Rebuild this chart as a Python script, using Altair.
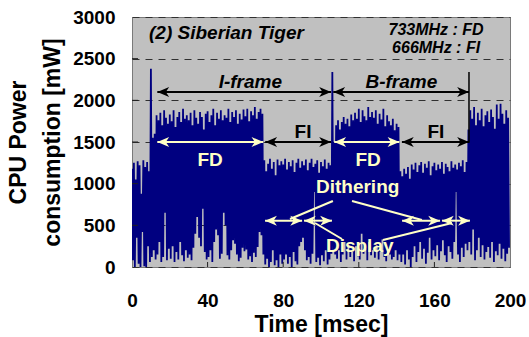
import altair as alt
import pandas as pd

FONT = "Liberation Sans"
NAVY = "#000080"
CREAM = "#FFFFC6"

# ---- signal: per-millisecond upper / lower excursions (mW) ----
hi_a = [1180, 1250, 1050, 1270, 1220, 880, 1280, 1200, 1260, 1150,
        2380, 1550, 1600, 1820, 1760, 1850, 1700, 1880, 1790, 1720,
        1830, 1750, 1880, 1680, 1800, 1860, 1740, 1900, 1780, 1820,
        1760, 1850, 1700, 1880, 1790, 1720, 1860, 1800, 1650, 1840,
        1870, 1740, 1820, 1900, 1700, 1850, 1780, 1880, 1760, 1820]
lo_a = [80, 0, 350, 40, 0, 420, 10, 0, 250, 60,
        120, 200, 90, 150, 300, 60, 120, 650, 80, 220,
        100, 250, 60, 180, 90, 300, 140, 70, 200, 110,
        150, 80, 230, 400, 600, 350, 250, 700, 180, 90,
        120, 200, 60, 300, 450, 380, 100, 160, 650, 500]
hi_b = [1790, 1900, 1740, 1860, 1800, 1880, 1720, 1840, 1770, 1890,
        1810, 1900, 1750, 1870, 1820, 1920, 1780, 1860, 1900, 1840,
        1280, 1150, 1240, 1300, 1180, 1260, 1100, 1290, 1220, 1270,
        1230, 1300, 1170, 1260, 1210, 1280, 1140, 1250, 1300, 1190,
        1270, 1220, 1290, 1160, 1250, 1300, 1200, 1240, 1280, 1130]
lo_b = [140, 90, 200, 320, 280, 150, 70, 110, 230, 190,
        210, 90, 130, 60, 170, 120, 240, 420, 380, 150,
        30, 100, 0, 60, 200, 20, 80, 0, 150, 40,
        90, 150, 40, 120, 0, 180, 70, 30, 250, 300,
        350, 200, 80, 120, 40, 160, 900, 60, 110, 20]
hi_c = [1260, 1210, 1290, 1180, 1250, 1220, 2340, 1500, 1700, 1760,
        1650, 1740, 1800, 1720, 1780, 1690, 1830, 1760, 1850, 1780,
        1900, 1740, 1880, 1810, 1760, 1920, 1800, 1860, 1790, 1880,
        1720, 1840, 1770, 1900, 1690, 1820, 1750, 1700, 1780, 1640,
        1720, 1680, 1150, 1090, 1180, 1120, 1200, 1060, 1230, 1170]
lo_c = [140, 70, 200, 30, 90, 160, 200, 150, 100, 200,
        60, 150, 300, 90, 240, 120, 180, 70, 250, 130,
        90, 400, 160, 220, 80, 300, 140, 200, 110, 260,
        90, 180, 330, 120, 70, 210, 150, 90, 120, 200,
        80, 150, 60, 150, 30, 200, 90, 0, 120, 250]
hi_d = [1250, 1140, 1220, 1260, 1130, 1240, 1190, 1270, 1100, 1210,
        1250, 1160, 1230, 1180, 1260, 1120, 1240, 1200, 1150, 1270,
        1190, 1230, 1170, 1250, 1210, 1280, 1140, 1260, 1650, 1880,
        1780, 1920, 1700, 1850, 1760, 1900, 1690, 1820, 1870, 1740,
        1890, 1800, 1660, 1950, 1780, 1960, 1840, 1720, 1880, 1790]
lo_d = [60, 180, 300, 100, 220, 40, 170, 350, 90, 200,
        130, 260, 80, 190, 320, 140, 60, 250, 180, 100,
        300, 900, 150, 60, 230, 120, 280, 200, 300, 150,
        450, 80, 200, 350, 120, 260, 90, 180, 240, 110,
        300, 60, 190, 140, 280, 100, 220, 70, 160, 230]

hi = hi_a + hi_b + hi_c + hi_d
lo = lo_a + lo_b + lo_c + lo_d

# axis ticks / grid
x_tick_vals = [0, 40, 80, 120, 160, 200]
y_tick_vals = [0, 500, 1000, 1500, 2000, 2500, 3000]
grid_levels = [500, 1000, 1500, 2000, 2500]
x_inner_ticks = [40, 80, 120, 160]

# arrows (start, end, level, colour)
arrow_start = [13.4, 106.5, 70.5, 142.8, 13.4, 107.0, 70.4, 91.0, 142.9, 164.0]
arrow_end = [105.3, 178.3, 105.3, 178.3, 69.5, 141.5, 90.0, 105.8, 163.0, 178.8]
arrow_level = [2100, 2100, 1500, 1500, 1500, 1500, 556, 556, 556, 556]
arrow_color = ["black", "black", "black", "black", CREAM, CREAM, CREAM, CREAM, CREAM, CREAM]

# leader lines from "Dithering" / "Display"
lead_t1 = [106.3, 116.4, 96.8, 132.8]
lead_v1 = [792, 792, 528, 324]
lead_t2 = [83.6, 153.4, 111.1, 169.3]
lead_v2 = [576, 564, 336, 528]

# frame boundary marker
bound_t = [178.3]
bound_v1 = [1490]
bound_v2 = [2340]

# text notes
head_text = ["(2) Siberian Tiger"]
head_t = [9.0]
head_v = [2808]
freq_text = ["733MHz : FD", "666MHz : FI"]
freq_t = [160.9, 160.9]
freq_v = [2844, 2628]
frame_text = ["I-frame", "B-frame"]
frame_t = [62.6, 142.5]
frame_v = [2220, 2220]
fi_text = ["FI", "FI"]
fi_t = [90.5, 160.8]
fi_v = [1620, 1620]
cream_text = ["FD", "FD", "Dithering", "Display"]
cream_t = [41.3, 124.9, 119.4, 120.5]
cream_v = [1284, 1284, 960, 252]

# ---- tables ----
sig_t, sig_v = [], []
for i in range(len(hi)):
    sig_t += [i, i + 0.5]
    sig_v += [hi[i], lo[i]]
sig = pd.DataFrame({"t": sig_t, "v": sig_v})

arrows = pd.DataFrame({"t": arrow_start, "b": arrow_end, "v": arrow_level, "col": arrow_color})
leads = pd.DataFrame({"t": lead_t1, "v": lead_v1, "t2": lead_t2, "v2": lead_v2})
bound = pd.DataFrame({"t": bound_t, "v": bound_v1, "v2": bound_v2})

xs = alt.Scale(domain=[0, 200], nice=False, zero=False)
ys = alt.Scale(domain=[0, 3000], nice=False)

x_axis = alt.Axis(values=x_tick_vals, title="Time [msec]", format="d", labelFont=FONT,
                  labelFontSize=19, labelFontWeight="bold", labelColor="black", labelPadding=24,
                  labelFlush=False, labelOverlap=False, ticks=False, domain=False, grid=False,
                  titleFont=FONT, titleFontSize=23, titleFontWeight="bold", titleColor="black",
                  titleX=189, titleY=64, titleAlign="center", titleBaseline="alphabetic")
y_axis = alt.Axis(values=y_tick_vals, title=["CPU Power", "consumption [mW]"], format="d",
                  labelFont=FONT, labelFontSize=19, labelFontWeight="bold", labelColor="black",
                  labelPadding=17, labelFlush=False, labelOverlap=False, ticks=False,
                  domain=False, grid=True, gridColor="#303030", gridDash=[7, 6], gridWidth=1,
                  titleFont=FONT, titleFontSize=23, titleFontWeight="bold", titleColor="black",
                  titleAngle=270, titleX=-114, titleY=125, titleAlign="center",
                  titleBaseline="middle", titleLineHeight=34)


def X(f="t"):
    return alt.X(f, type="quantitative", scale=xs, axis=x_axis)


def Y(f="v"):
    return alt.Y(f, type="quantitative", scale=ys, axis=y_axis)


line = alt.Chart(sig).mark_line(color=NAVY, strokeWidth=1.8, clip=True).encode(x=X(), y=Y())

xt = alt.Chart(pd.DataFrame({"t": x_inner_ticks})).mark_rule(color="#202020").encode(
    x=X(), y=alt.value(250), y2=alt.value(245))
yt = alt.Chart(pd.DataFrame({"v": grid_levels})).mark_rule(color="#202020").encode(
    y=Y(), x=alt.value(0), x2=alt.value(6))

boundary = alt.Chart(bound).mark_rule(color="black", strokeWidth=1.5).encode(
    x=X(), y=Y(), y2="v2")

lead = alt.Chart(leads).mark_rule(color=CREAM, strokeWidth=2).encode(
    x=X(), y=Y(), x2="t2", y2="v2")

shaft = alt.Chart(arrows).mark_rule(strokeWidth=2).encode(
    x=X(), x2="b", y=Y(), color=alt.Color("col:N", scale=None))

RIGHT_HEAD = "M0,0L-1,-0.42L-0.72,0L-1,0.42Z"
LEFT_HEAD = "M0,0L1,-0.42L0.72,0L1,0.42Z"
head_l = alt.Chart(arrows).mark_point(shape=LEFT_HEAD, filled=True, size=560, opacity=1,
                                       strokeWidth=0).encode(
    x=X(), y=Y(), color=alt.Color("col:N", scale=None))
head_r = alt.Chart(arrows).mark_point(shape=RIGHT_HEAD, filled=True, size=560, opacity=1,
                                       strokeWidth=0).encode(
    x=X("b"), y=Y(), color=alt.Color("col:N", scale=None))


def texts(labels, ts, vs, size, color, align="center", italic=False):
    kw = dict(font=FONT, fontWeight="bold", fontSize=size, align=align,
              baseline="middle", color=color)
    if italic:
        kw["fontStyle"] = "italic"
    return alt.Chart(pd.DataFrame({"s": labels, "t": ts, "v": vs})).mark_text(**kw).encode(
        x=X(), y=Y(), text="s:N")


t_head = texts(head_text, head_t, head_v, 19, "black", align="left", italic=True)
t_freq = texts(freq_text, freq_t, freq_v, 16, "black", italic=True)
t_frame = texts(frame_text, frame_t, frame_v, 19, "black", italic=True)
t_fi = texts(fi_text, fi_t, fi_v, 19, "black")
t_cream = texts(cream_text, cream_t, cream_v, 19, CREAM)

chart = alt.layer(
    line, xt, yt, boundary, lead, shaft, head_l, head_r,
    t_head, t_freq, t_frame, t_fi, t_cream,
).properties(
    width=378, height=250,
    autosize=alt.AutoSizeParams(type="none"),
    padding={"left": 132, "top": 17, "right": 19, "bottom": 70},
    background="white",
).configure_view(
    fill="#C0C0C0", stroke="#7a7a7a", strokeWidth=1,
)

chart.save("out.html", embed_options={"renderer": "svg", "actions": False})
